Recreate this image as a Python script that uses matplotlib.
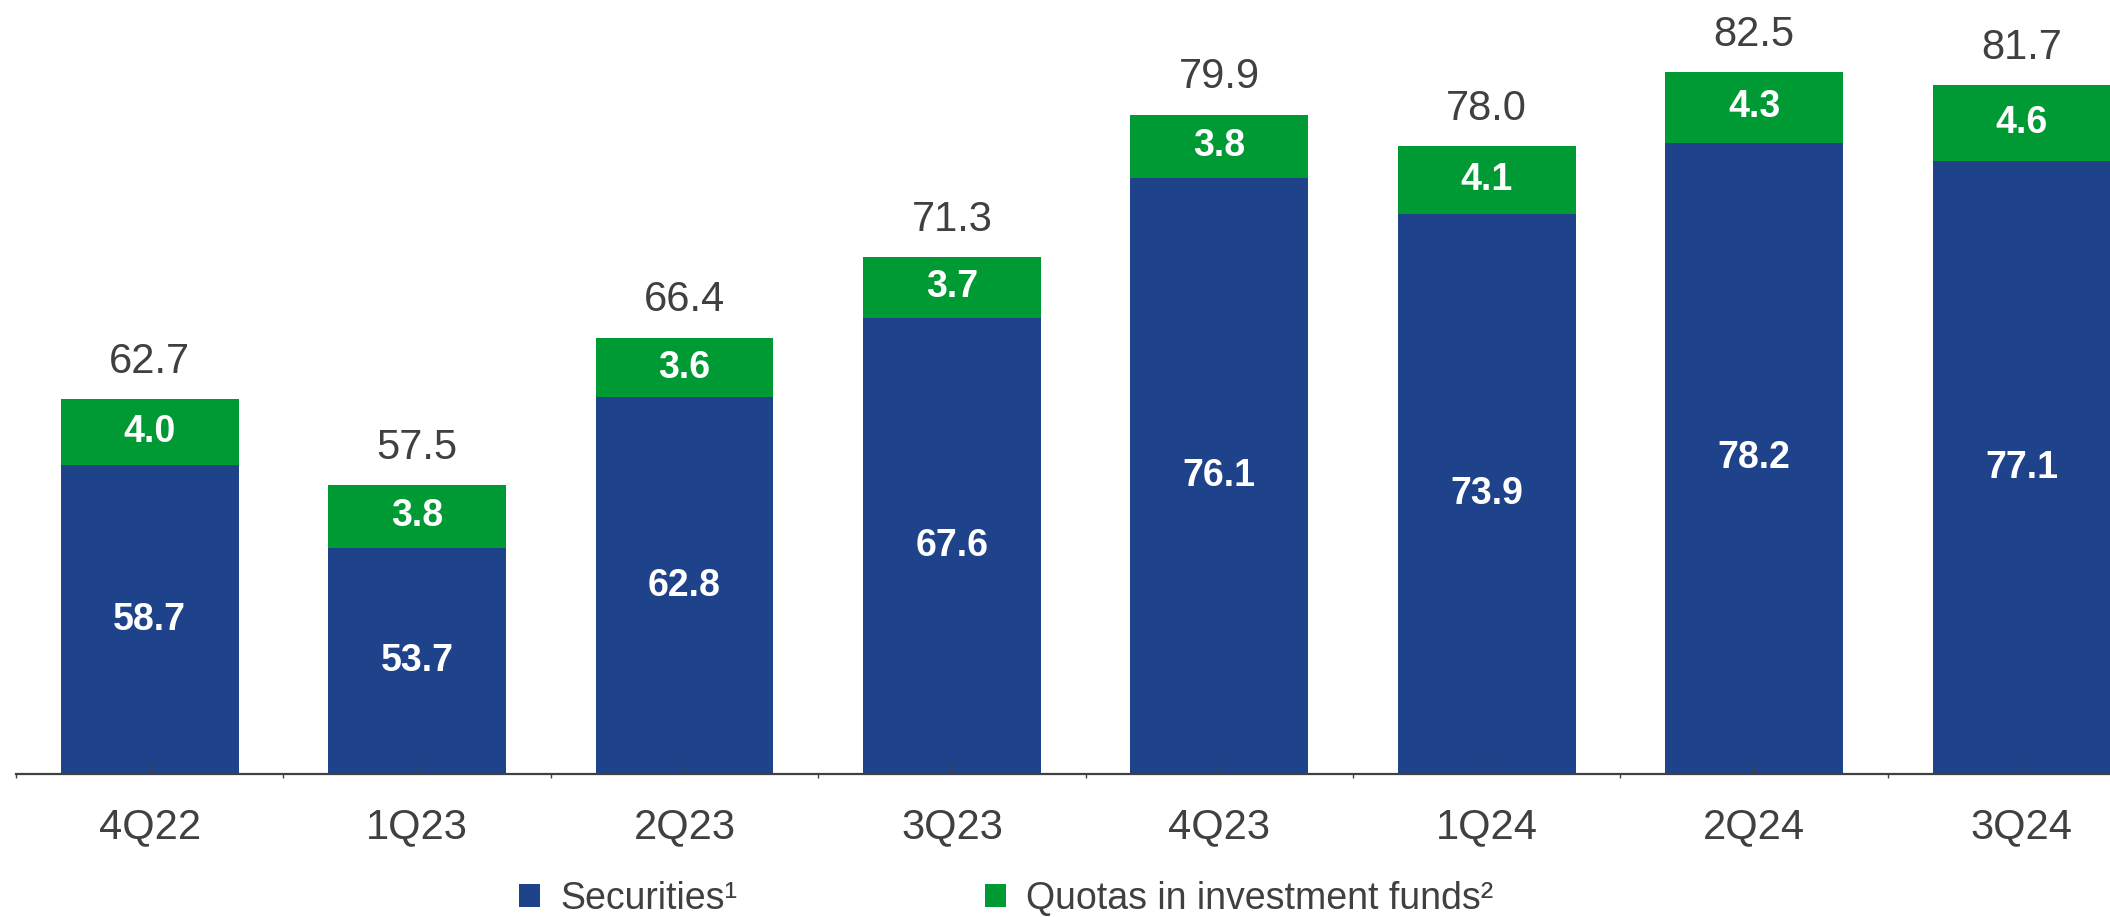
import matplotlib
matplotlib.use('Agg')
import matplotlib.pyplot as plt
import numpy as np

plt.rcParams['font.family'] = ['Liberation Sans', 'DejaVu Sans']

# data
quarters = ['4Q22', '1Q23', '2Q23', '3Q23', '4Q23', '1Q24', '2Q24', '3Q24']
securities = [58.7, 53.7, 62.8, 67.6, 76.1, 73.9, 78.2, 77.1]
quotas = [4.0, 3.8, 3.6, 3.7, 3.8, 4.1, 4.3, 4.6]
totals = [62.7, 57.5, 66.4, 71.3, 79.9, 78.0, 82.5, 81.7]
# segment heights shown on the chart (the blue labels show the total less the green part)
blue_heights = [t - q for t, q in zip(totals, quotas)]

blue = '#1F438A'
green = '#009A35'
grey = '#404040'
base = 40.0

fig = plt.figure(figsize=(21.1, 9.17), dpi=100)
ax = fig.add_axes([16 / 2110, (917 - 774) / 917, 1 - 16 / 2110, 774 / 917])

x = np.arange(len(quarters))
w = 0.665
b1 = ax.bar(x, np.array(blue_heights) - base, w, bottom=base, color=blue,
            label='Securities\u00b9')
b2 = ax.bar(x, quotas, w, bottom=blue_heights, color=green,
            label='Quotas in investment funds\u00b2')

for i in range(len(quarters)):
    ax.text(x[i], (base + blue_heights[i]) / 2, f'{securities[i]:.1f}',
            ha='center', va='center', color='white', fontsize=27,
            fontweight='bold')
    ax.text(x[i], blue_heights[i] + quotas[i] / 2, f'{quotas[i]:.1f}',
            ha='center', va='center', color='white', fontsize=27,
            fontweight='bold')
    ax.annotate(f'{totals[i]:.1f}', (x[i], totals[i]), xytext=(0, 19),
                textcoords='offset points', ha='center', va='baseline',
                fontsize=30, color=grey)

for s in ['top', 'right', 'left']:
    ax.spines[s].set_visible(False)
ax.spines['bottom'].set_color(grey)
ax.spines['bottom'].set_linewidth(1.6)
ax.set_yticks([])

ax.set_xticks(x)
ax.set_xticklabels(quarters)
ax.set_xticks(np.arange(-0.5, len(quarters) + 0.5, 1), minor=True)
ax.tick_params(axis='x', which='major', direction='in', length=6.5,
               width=1, color=grey, labelsize=30, labelcolor=grey, pad=24)
ax.tick_params(axis='x', which='minor', direction='out', length=3,
               width=1, color=grey)

# limits set after the ticks so they are not widened again
ax.set_xlim(-0.5, -0.5 + 2094 / 267.4)
ax.set_ylim(base, base + 774 / 16.52)

leg = fig.legend(handles=[b1, b2], loc='center', ncol=2,
                 bbox_to_anchor=(0.477, 0.02), frameon=False, fontsize=27,
                 handlelength=0.55, handleheight=0.55, handletextpad=0.55,
                 columnspacing=6.6, borderpad=0, borderaxespad=0)
for t in leg.get_texts():
    t.set_color(grey)

plt.savefig('out.png', dpi=100)
